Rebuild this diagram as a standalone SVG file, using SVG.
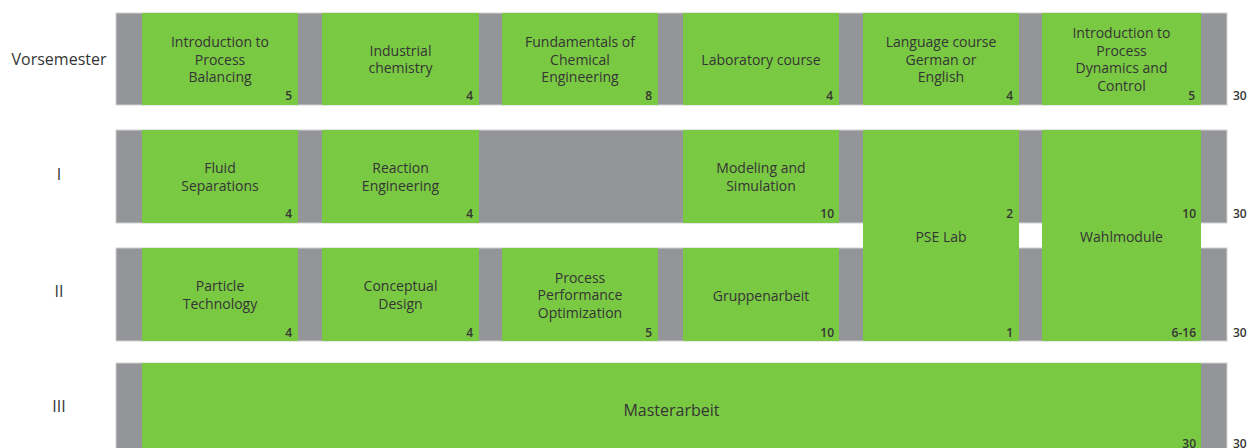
<svg xmlns="http://www.w3.org/2000/svg" width="1258" height="448" viewBox="0 0 1258 448">
<style>
text{font-family:"Open Sans","Liberation Sans",sans-serif;fill:#353535}
.band{fill:#939598;stroke:#d2d2d2;stroke-width:1}
.mod{fill:#7ac943}
.t{font-size:14px;text-anchor:middle}
.n{font-size:12px;font-weight:600;text-anchor:end}
.sum{font-size:12px;font-weight:600;text-anchor:start}
.row{font-size:16px;text-anchor:middle}
</style>
<rect width="1258" height="448" fill="#ffffff"/>

<g id="labels">
<text class="row" x="59" y="65">Vorsemester</text>
<text class="row" x="59" y="180">I</text>
<text class="row" x="59" y="297">II</text>
<text class="row" x="59" y="412">III</text>
</g>

<g id="bands">
<rect class="band" x="116" y="13" width="1111" height="92"/>
<rect class="band" x="116" y="130" width="1111" height="93"/>
<rect class="band" x="116" y="248" width="1111" height="93"/>
<rect class="band" x="116" y="363" width="1111" height="92"/>
</g>

<g id="vs1"><rect class="mod" x="142" y="13" width="156" height="92"/>
<text class="t" x="220" y="47">Introduction to</text><text class="t" x="220" y="64.5">Process</text><text class="t" x="220" y="82">Balancing</text>
<text class="n" x="292" y="100">5</text></g>
<g id="vs2"><rect class="mod" x="322" y="13" width="157" height="92"/>
<text class="t" x="400.5" y="55.75">Industrial</text><text class="t" x="400.5" y="73.25">chemistry</text>
<text class="n" x="473" y="100">4</text></g>
<g id="vs3"><rect class="mod" x="502" y="13" width="156" height="92"/>
<text class="t" x="580" y="47">Fundamentals of</text><text class="t" x="580" y="64.5">Chemical</text><text class="t" x="580" y="82">Engineering</text>
<text class="n" x="652" y="100">8</text></g>
<g id="vs4"><rect class="mod" x="683" y="13" width="156" height="92"/>
<text class="t" x="761" y="64.5">Laboratory course</text>
<text class="n" x="833" y="100">4</text></g>
<g id="vs5"><rect class="mod" x="863" y="13" width="156" height="92"/>
<text class="t" x="941" y="47">Language course</text><text class="t" x="941" y="64.5">German or</text><text class="t" x="941" y="82">English</text>
<text class="n" x="1013" y="100">4</text></g>
<g id="vs6"><rect class="mod" x="1042" y="13" width="159" height="92"/>
<text class="t" x="1121.5" y="38.25">Introduction to</text><text class="t" x="1121.5" y="55.75">Process</text><text class="t" x="1121.5" y="73.25">Dynamics and</text><text class="t" x="1121.5" y="90.75">Control</text>
<text class="n" x="1195" y="100">5</text></g>

<g id="s1a"><rect class="mod" x="142" y="130" width="156" height="93"/>
<text class="t" x="220" y="173.25">Fluid</text><text class="t" x="220" y="190.75">Separations</text>
<text class="n" x="292" y="218">4</text></g>
<g id="s1b"><rect class="mod" x="322" y="130" width="157" height="93"/>
<text class="t" x="400.5" y="173.25">Reaction</text><text class="t" x="400.5" y="190.75">Engineering</text>
<text class="n" x="473" y="218">4</text></g>
<g id="s1c"><rect class="mod" x="683" y="130" width="156" height="93"/>
<text class="t" x="761" y="173.25">Modeling and</text><text class="t" x="761" y="190.75">Simulation</text>
<text class="n" x="834" y="218">10</text></g>

<g id="pse"><rect class="mod" x="863" y="130" width="156" height="211"/>
<text class="t" x="941" y="242">PSE Lab</text>
<text class="n" x="1013" y="218">2</text>
<text class="n" x="1013" y="337">1</text></g>
<g id="wahl"><rect class="mod" x="1042" y="130" width="159" height="211"/>
<text class="t" x="1121.5" y="242">Wahlmodule</text>
<text class="n" x="1196" y="218">10</text>
<text class="n" x="1196" y="337">6-16</text></g>

<g id="s2a"><rect class="mod" x="142" y="248" width="156" height="93"/>
<text class="t" x="220" y="291.25">Particle</text><text class="t" x="220" y="308.75">Technology</text>
<text class="n" x="292" y="337">4</text></g>
<g id="s2b"><rect class="mod" x="322" y="248" width="157" height="93"/>
<text class="t" x="400.5" y="291.25">Conceptual</text><text class="t" x="400.5" y="308.75">Design</text>
<text class="n" x="473" y="337">4</text></g>
<g id="s2c"><rect class="mod" x="502" y="248" width="156" height="93"/>
<text class="t" x="580" y="282.5">Process</text><text class="t" x="580" y="300">Performance</text><text class="t" x="580" y="317.5">Optimization</text>
<text class="n" x="652" y="337">5</text></g>
<g id="s2d"><rect class="mod" x="683" y="248" width="156" height="93"/>
<text class="t" x="761" y="301">Gruppenarbeit</text>
<text class="n" x="834" y="337">10</text></g>

<g id="master"><rect class="mod" x="142" y="363" width="1059" height="92"/>
<text class="t" x="671.5" y="415.5" style="font-size:16px">Masterarbeit</text>
<text class="n" x="1196" y="448">30</text></g>

<g id="sums">
<text class="sum" x="1233" y="100">30</text>
<text class="sum" x="1233" y="218">30</text>
<text class="sum" x="1233" y="337">30</text>
<text class="sum" x="1233" y="448">30</text>
</g>
</svg>
